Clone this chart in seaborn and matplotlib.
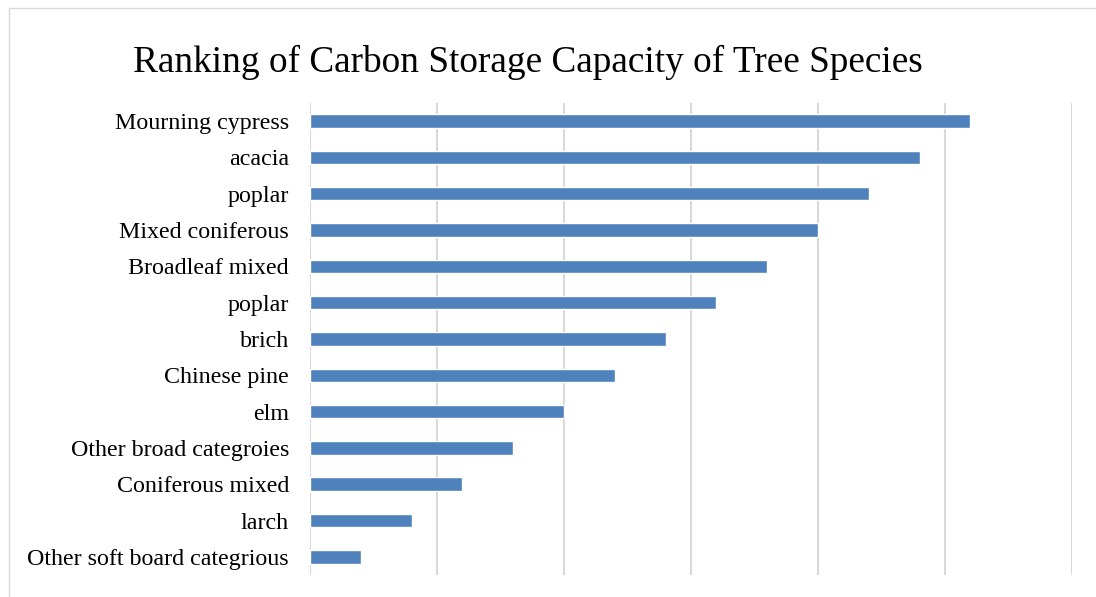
import pandas as pd
import seaborn as sns
import matplotlib.pyplot as plt
from matplotlib.patches import Rectangle

SPECIES = [
    "Mourning cypress", "acacia", "poplar", "Mixed coniferous",
    "Broadleaf mixed", "poplar", "brich", "Chinese pine", "elm",
    "Other broad categroies", "Coniferous mixed", "larch",
    "Other soft board categrious",
]
CAPACITY = [5.2, 4.8, 4.4, 4.0, 3.6, 3.2, 2.8, 2.4, 2.0, 1.6, 1.2, 0.8, 0.4]

sns.set_style("white")
plt.rcParams["font.family"] = ["Liberation Serif", "DejaVu Serif"]

# rank is used as the category so the two "poplar" rows stay separate
df = pd.DataFrame({"rank": range(len(SPECIES)), "capacity": CAPACITY})

fig = plt.figure(figsize=(10.96, 5.97), dpi=100)
ax = fig.add_axes([0.2828, 0.0369, 0.6953, 0.7906])

sns.barplot(data=df, x="capacity", y="rank", orient="h", color="#4F81BD",
            saturation=1, width=0.37, ax=ax)

ax.set_xlim(0, 6)
ax.set_ylim(12.5, -0.5)
ax.set_xticks([0, 1, 2, 3, 4, 5, 6])
ax.set_xticklabels([])
ax.set_yticks(range(len(SPECIES)))
ax.set_yticklabels(SPECIES)
ax.xaxis.grid(True, color="#D9D9D9", linewidth=1.5)
ax.set_axisbelow(True)
ax.tick_params(axis="x", length=0)
ax.tick_params(axis="y", length=0, labelsize=17.3, pad=15, labelcolor="black")
ax.set_xlabel("")
ax.set_ylabel("")
for s in ax.spines.values():
    s.set_visible(False)

fig.text(0.482, 0.895, "Ranking of Carbon Storage Capacity of Tree Species",
         ha="center", va="center", fontsize=26.8, color="black")

# chart area border (right and bottom edges fall outside the picture)
fig.patches.append(Rectangle((9 / 1096, -10 / 597), 1100 / 1096, 599 / 597,
                             transform=fig.transFigure, fill=False,
                             edgecolor="#D9D9D9", linewidth=1))

fig.savefig("out.png", dpi=100)
